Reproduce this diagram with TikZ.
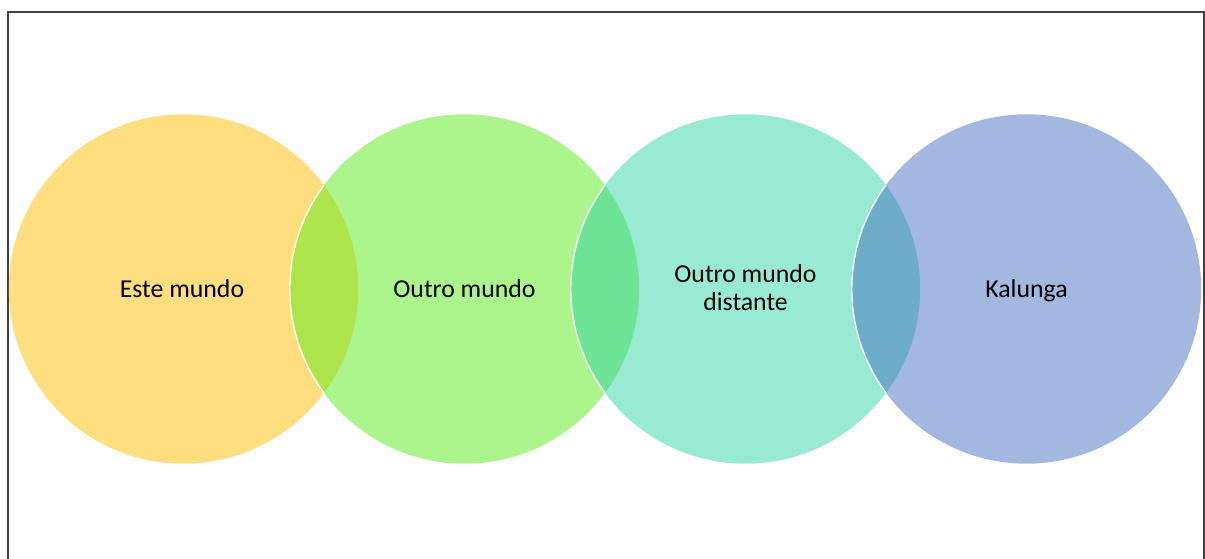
\documentclass[tikz,border=0pt]{standalone}
\usepackage{fontspec}
\setmainfont{Carlito}
\definecolor{cyel}{RGB}{255,222,128}
\definecolor{cgrn}{RGB}{172,244,140}
\definecolor{cteal}{RGB}{152,235,210}
\definecolor{cblue}{RGB}{162,184,225}
\definecolor{oyg}{RGB}{174,229,74}
\definecolor{ogt}{RGB}{110,229,150}
\definecolor{otb}{RGB}{110,173,202}
\definecolor{frame}{RGB}{64,64,64}
\tikzset{
  lbl/.style={font=\fontsize{25.8}{27.7}\selectfont, text=black, align=center, inner sep=0pt, anchor=base},
}
\begin{document}
\begin{tikzpicture}[x=1pt,y=-1pt]
\useasboundingbox (0,0) rectangle (1205,559);
\fill[white] (0,0) rectangle (1205,559);
\draw[frame, line width=2pt] (7.5,12) rectangle (1203.5,580);
% circle centres
\coordinate (c1) at (183.5,289);
\coordinate (c2) at (464.5,289);
\coordinate (c3) at (745.5,289);
\coordinate (c4) at (1026.5,289);
\def\R{174.7}
\fill[cyel] (c1) circle (\R);
\fill[cgrn] (c2) circle (\R);
\fill[cteal] (c3) circle (\R);
\fill[cblue] (c4) circle (\R);
% overlaps
\begin{scope}\clip (c1) circle (\R); \fill[oyg] (c2) circle (\R);\end{scope}
\begin{scope}\clip (c2) circle (\R); \fill[ogt] (c3) circle (\R);\end{scope}
\begin{scope}\clip (c3) circle (\R); \fill[otb] (c4) circle (\R);\end{scope}
% white edges
\begin{scope}\clip (c1) circle (\R); \draw[white, line width=1.3pt] (c2) circle (\R);\end{scope}
\begin{scope}\clip (c2) circle (\R); \draw[white, line width=1.3pt] (c3) circle (\R);\end{scope}
\begin{scope}\clip (c3) circle (\R); \draw[white, line width=1.3pt] (c4) circle (\R);\end{scope}
% labels
\node[lbl] (t1) at (182,297) {Este mundo};
\node[lbl] (t2) at (464.5,297) {Outro mundo};
\node[lbl] (t3) at (745.5,310) {Outro mundo\\distante};
\node[lbl] (t4) at (1026.5,297) {Kalunga};
\end{tikzpicture}
\end{document}
